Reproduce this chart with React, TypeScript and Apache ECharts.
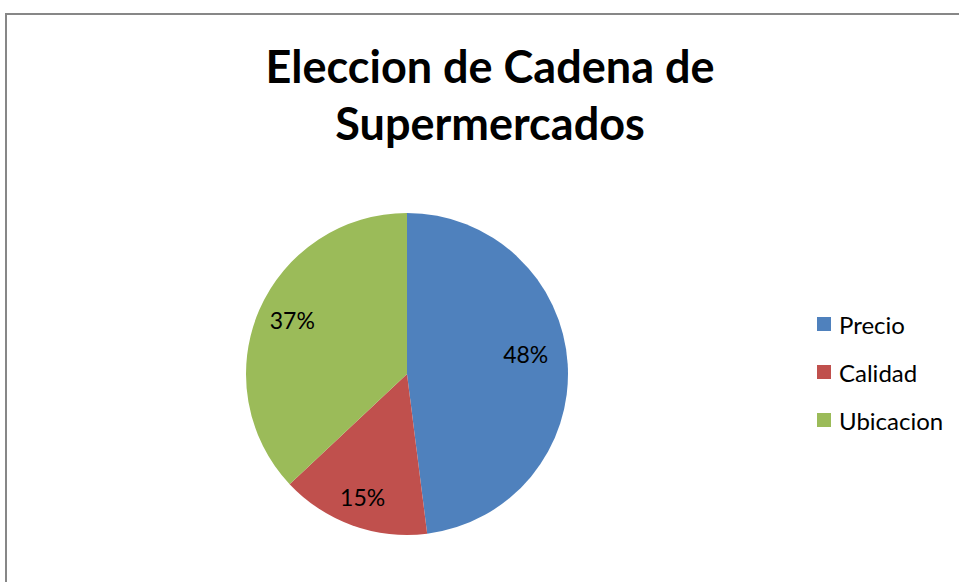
import React, { useEffect, useRef } from "react";
import * as echarts from "echarts";

const titleLines = ["Eleccion de Cadena de", "Supermercados"];
const categories = ["Precio", "Calidad", "Ubicacion"];
const values = [48, 15, 37];
const colors = ["#4F81BD", "#C0504D", "#9BBB59"];
const labelOffsets: number[][] = [[-6, -12], [-2, 5], [0, -4]];

export default function App() {
  const ref = useRef<HTMLDivElement>(null);
  useEffect(() => {
    if (!ref.current) return;
    const chart = echarts.init(ref.current, undefined, { renderer: "svg" });
    const font = "Lato, 'Open Sans', sans-serif";
    chart.setOption({
      animation: false,
      backgroundColor: "#ffffff",
      color: colors,
      graphic: [
        {
          type: "rect",
          shape: { x: 6, y: 14, width: 1200, height: 1200 },
          style: { fill: "none", stroke: "#878787", lineWidth: 2 },
          silent: true,
          z: -1,
        },
        ...titleLines.map((t, i) => ({
          type: "text",
          x: 490,
          y: 66 + i * 57,
          style: {
            text: t,
            fill: "#000000",
            font: `bold 45px ${font}`,
            textAlign: "center",
            textVerticalAlign: "middle",
          },
        })),
      ],
      legend: {
        orient: "vertical",
        left: 817,
        top: 312,
        padding: 0,
        itemWidth: 14,
        itemHeight: 14,
        itemGap: 24,
        icon: "rect",
        data: categories.map((c, i) => ({ name: c, itemStyle: { color: colors[i] } })),
        textStyle: { fontFamily: font, fontSize: 24, color: "#000000", padding: [0, 0, 0, 3] },
      },
      series: [
        {
          type: "pie",
          center: [407, 374],
          radius: 161,
          startAngle: 90,
          clockwise: true,
          silent: true,
          label: { show: false },
          labelLine: { show: false },
          data: categories.map((c, i) => ({ name: c, value: values[i], itemStyle: { color: colors[i] } })),
        },
        {
          type: "pie",
          center: [407, 374],
          radius: 244,
          startAngle: 90,
          clockwise: true,
          silent: true,
          legendHoverLink: false,
          itemStyle: { color: "rgba(0,0,0,0)" },
          labelLine: { show: false },
          label: {
            show: true,
            position: "inside",
            formatter: "{d}%",
            fontFamily: font,
            fontSize: 23,
            color: "#000000",
          },
          data: categories.map((c, i) => ({
            name: c,
            value: values[i],
            itemStyle: { color: "rgba(0,0,0,0)" },
            label: { offset: labelOffsets[i] },
          })),
        },
      ],
    });
    return () => chart.dispose();
  }, []);
  return <div ref={ref} style={{ position: "fixed", left: 0, top: 0, width: 959, height: 582 }} />;
}
